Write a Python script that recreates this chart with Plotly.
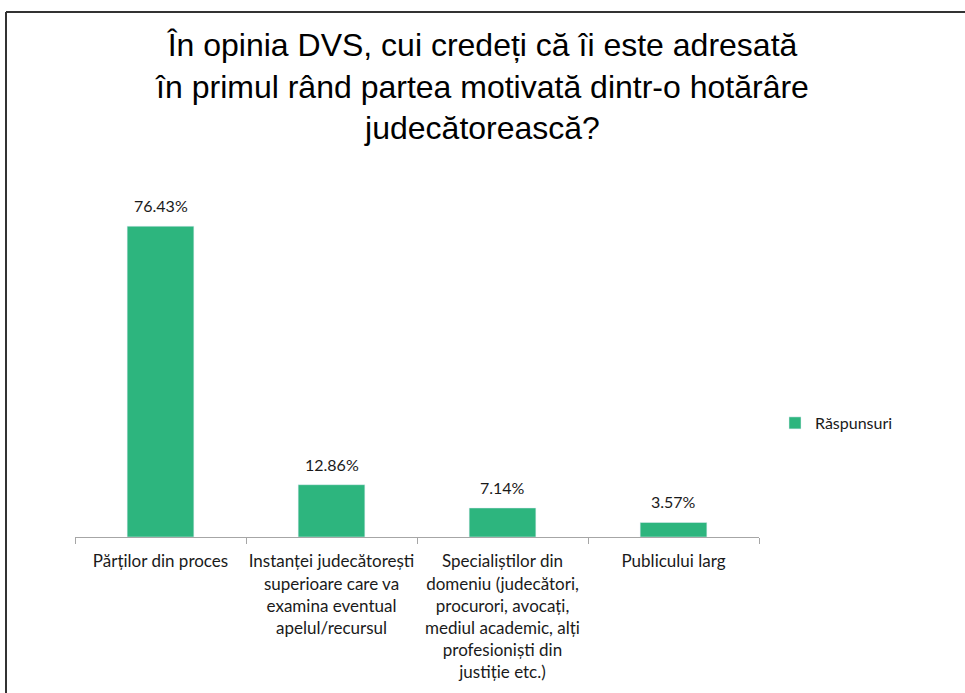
import plotly.graph_objects as go

# date
categorii = [
    "Părților din proces",
    "Instanței judecătorești<br>superioare care va<br>examina eventual<br>apelul/recursul",
    "Specialiștilor din<br>domeniu (judecători,<br>procurori, avocați,<br>mediul academic, alți<br>profesioniști din<br>justiție etc.)",
    "Publicului larg",
]
valori = [76.43, 12.86, 7.14, 3.57]
serie = "Răspunsuri"
titlu = ("În opinia DVS, cui credeți că îi este adresată<br>"
         "în primul rând partea motivată dintr-o hotărâre<br>"
         "judecătorească?")

W, H = 965, 693
ml, mr, mt, mb = 75, 206, 171, 156
pw, ph = W - ml - mr, H - mt - mb

def px(x):
    return (x - ml) / pw

def py(y):
    return (H - mb - y) / ph

font_txt = "Lato, 'Open Sans', sans-serif"

fig = go.Figure()
fig.add_trace(go.Bar(
    x=categorii, y=valori, name=serie,
    marker=dict(color="#2DB57E"),
    width=0.39,
    showlegend=True,
))

# etichete valori deasupra barelor
for c, v in zip(categorii, valori):
    fig.add_annotation(x=c, y=v, text=f"{v:.2f}%", showarrow=False,
                       yanchor="bottom", yshift=9,
                       font=dict(size=16, color="#1a1a1a", family=font_txt))

fig.update_layout(
    width=W, height=H,
    margin=dict(l=ml, r=mr, t=mt, b=mb),
    paper_bgcolor="white", plot_bgcolor="white",
    title=dict(text=titlu, x=0.5, xref="container", xanchor="center",
               y=1 - 56 / H, yanchor="middle",
               font=dict(family="Liberation Sans, Arial, sans-serif", size=32, color="black")),
    xaxis=dict(
        showline=True, linecolor="#a6a6a6", linewidth=1,
        ticks="outside", tickson="boundaries", ticklen=6, tickcolor="#a6a6a6",
        ticklabelstandoff=9,
        tickfont=dict(size=17, color="#1a1a1a", family=font_txt),
        showgrid=False, tickangle=0,
    ),
    yaxis=dict(range=[0, 90], visible=False, showgrid=False, zeroline=False),
    legend=dict(x=px(775), y=py(423), xanchor="left", yanchor="middle",
                font=dict(size=16, color="#1a1a1a", family=font_txt)),
    bargap=0.61,
)

# chenar
fig.add_shape(type="line", xref="paper", yref="paper",
              x0=px(6), x1=px(W + 5), y0=py(12), y1=py(12),
              line=dict(color="#333333", width=2))
fig.add_shape(type="line", xref="paper", yref="paper",
              x0=px(6), x1=px(6), y0=py(12), y1=py(H + 5),
              line=dict(color="#333333", width=2))

fig.write_html("out.html", config={"displayModeBar": False},
               post_script="document.body.style.margin='0';")
